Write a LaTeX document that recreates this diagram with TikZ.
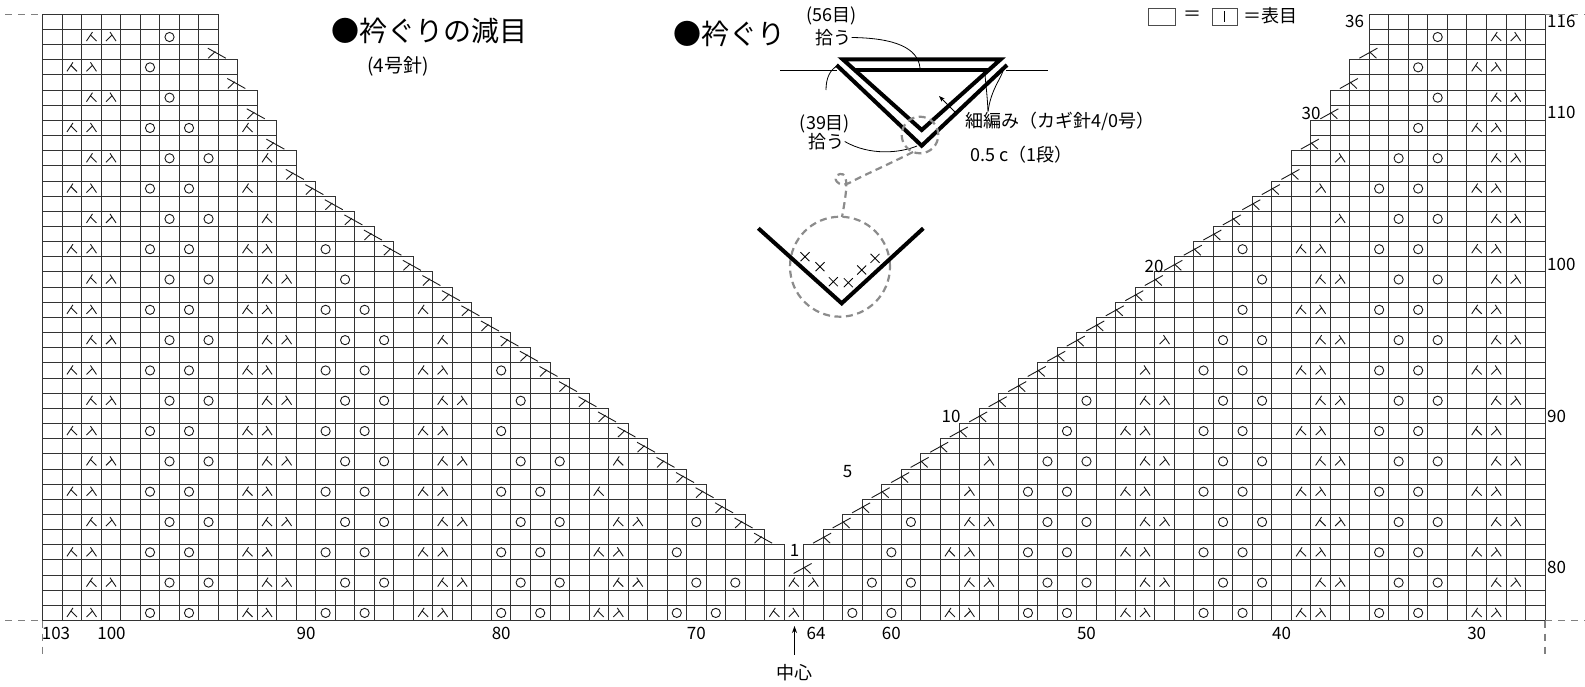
\documentclass[tikz,border=0pt]{standalone}
\usepackage{fontspec}
\setmainfont{Noto Sans CJK JP}
\usetikzlibrary{arrows.meta}

\tikzset{
  cellline/.style={draw=black!80, line width=0.9pt},
  knit/.style={draw=black!90, line width=0.9pt},
  band/.style={line width=4pt, line join=miter},
  thinline/.style={line width=0.8pt},
  dashring/.style={draw=black!45, line width=2.2pt, dash pattern=on 7pt off 4.5pt},
  frameline/.style={draw=black!50, line width=1.1pt, dash pattern=on 7pt off 6pt},
  numlab/.style={inner sep=0pt, font=\fontsize{17pt}{17pt}\selectfont},
  jlab/.style={inner sep=0pt, font=\fontsize{18pt}{18pt}\selectfont},
  titlelab/.style={inner sep=0pt, font=\fontsize{28pt}{28pt}\selectfont},
  pics/kleft/.style={code={\draw[knit] (1pt,5pt) -- (-5pt,-4pt) (-0.6pt,1.6pt) -- (5pt,-4pt);}},
  pics/kright/.style={code={\draw[knit] (-1pt,5pt) -- (5pt,-4pt) (0.6pt,1.6pt) -- (-5pt,-4pt);}},
  pics/edgeleft/.style={code={\draw[knit] (-10.5pt,4pt) -- (7.5pt,-6pt) (-3pt,0.7pt) -- (-10pt,-6pt);}},
  pics/edgeright/.style={code={\draw[knit] (8pt,4pt) -- (-10pt,-6pt) (0pt,0.5pt) -- (7pt,-6pt);}},
}

\begin{document}
\begin{tikzpicture}[x=1pt,y=-1pt]
\useasboundingbox (0,0) rectangle (1585,686);

% chart cells and stitches
\begin{scope}[shift={(42.7pt,-14.3pt)},x=19.51pt,y=-15.155pt]
\foreach \j in {0,...,39}{
  \pgfmathtruncatemacro{\rw}{116-\j}
  \pgfmathtruncatemacro{\ledge}{(\rw<=106) ? (\rw-15) : ((\rw==107) ? 91 : ((\rw<=109) ? 92 : ((\rw<=111) ? 93 : ((\rw<=113) ? 94 : 95))))}
  \pgfmathtruncatemacro{\redge}{130-\ledge}
  \pgfmathtruncatemacro{\dec}{(((\rw>=82) && (\rw<=106)) || (\rw==108) || (\rw==110) || (\rw==112) || (\rw==114)) ? 1 : 0}
  \pgfmathtruncatemacro{\patt}{(mod(\rw,4)==1) ? 102 : 101}
  \foreach \i in {0,...,76}{
    \pgfmathtruncatemacro{\cl}{103-\i}
    \pgfmathtruncatemacro{\cellon}{((\rw<=80) || (\cl>=\ledge) || (\cl<=\redge)) ? 1 : 0}
    \ifnum\cellon=1
      \draw[cellline] (\i,\j) rectangle ++(1,1);
      \ifodd\rw
        \pgfmathtruncatemacro{\mm}{mod(\patt-\cl+90,9)}
        \pgfmathtruncatemacro{\ulo}{((\mm==0) || (\mm==4)) ? \cl : (\cl-3)}
        \pgfmathtruncatemacro{\vis}{(\rw<=80) ? 1 : ((\cl>=\ledge) ? ((\ulo>=\ledge+\dec+1) ? 1 : 0) : ((\ulo+3<=\redge-\dec-1) ? 1 : 0))}
        \ifnum\vis=1
          \ifnum\mm=0 \pic at (\i+0.5,\j+0.5) {kleft};\fi
          \ifnum\mm=1 \pic at (\i+0.5,\j+0.5) {kright};\fi
          \ifnum\mm=4 \draw[knit] (\i+0.5,\j+0.5) circle (4.6pt);\fi
          \ifnum\mm=6 \draw[knit] (\i+0.5,\j+0.5) circle (4.6pt);\fi
        \fi
      \fi
    \fi
  }
}
% neckline decreases
\foreach \j in {2,...,34}{
  \pgfmathtruncatemacro{\rw}{116-\j}
  \pgfmathtruncatemacro{\ledge}{(\rw<=106) ? (\rw-15) : ((\rw==107) ? 91 : ((\rw<=109) ? 92 : ((\rw<=111) ? 93 : ((\rw<=113) ? 94 : 95))))}
  \pgfmathtruncatemacro{\dec}{(((\rw>=82) && (\rw<=106)) || (\rw==108) || (\rw==110) || (\rw==112) || (\rw==114)) ? 1 : 0}
  \pgfmathtruncatemacro{\xl}{104-\ledge}
  \pgfmathtruncatemacro{\xr}{\ledge-27}
  \ifnum\dec=1
    \pic at (\xl,\j+0.5) {edgeleft};
    \pic at (\xr,\j+0.5) {edgeright};
  \fi
}
\pic at (39,36.5) {edgeright};
\end{scope}

% dashed frame marks
\draw[frameline] (5,14.3) -- (42.7,14.3);
\draw[frameline] (1545,14.3) -- (1585,14.3);
\draw[frameline] (5,620.5) -- (42.7,620.5);
\draw[frameline] (1545,620.5) -- (1585,620.5);
\draw[frameline] (42.7,620.5) -- (42.7,657);
\draw[frameline] (1545,620.5) -- (1545,657);

% stitch numbers
\node[numlab] (b103) at (56,633) {103};
\node[numlab] (b100) at (111.5,633) {100};
\foreach \c in {90,80,70,60,50,40,30}
  \node[numlab] (b\c) at ({42.7+(103.5-\c)*19.51},633) {\c};
\node[numlab] (b64) at (816,633) {64};
\node[jlab] (center) at (794.5,673) {中心};
\coordinate (ctip) at (794.5,626);
\draw[thinline,-{Stealth[length=7pt,width=5pt]},shorten <=10pt] (center) -- (ctip);

% row numbers
\node[numlab,anchor=west] (r116) at (1547,21.9) {116};
\node[numlab,anchor=west] (r110) at (1547,112.8) {110};
\node[numlab,anchor=west] (r100) at (1547,264.4) {100};
\node[numlab,anchor=west] (r90) at (1547,416) {90};
\node[numlab,anchor=west] (r80) at (1547,567.5) {80};

% neck rows
\node[numlab] (s1) at (794.5,550) {1};
\node[numlab] (s5) at (847.5,471.7) {5};
\node[numlab] (s10) at (951,416.7) {10};
\node[numlab] (s20) at (1154,266) {20};
\node[numlab] (s30) at (1311,113.3) {30};
\node[numlab] (s36) at (1354.5,21.7) {36};

% titles
\node[titlelab] (title1) at (429,31) {●衿ぐりの減目};
\node[inner sep=0pt,font=\fontsize{19pt}{19pt}\selectfont] (needle) at (398,66) {(4号針)};
\node[titlelab] (title2) at (729,34) {●衿ぐり};

% key
\draw[draw=black!70,line width=0.8pt] (1148,8) rectangle (1175,25);
\node[jlab] (eq1) at (1192,16) {＝};
\draw[draw=black!70,line width=0.8pt] (1212,8) rectangle (1237,25);
\draw[line width=0.8pt] (1224.5,11) -- (1224.5,22);
\node[jlab,anchor=west] (knitkey) at (1243,16) {＝表目};

% neckband sketch
\node[jlab] (p56) at (831.5,15.5) {(56目)};
\node[jlab] (p56b) at (833.5,37.5) {拾う};
\node[jlab] (p39) at (825,123.5) {(39目)};
\node[jlab] (p39b) at (826.5,141.5) {拾う};
\node[jlab,anchor=west] (sc) at (965,121) {細編み（カギ針4/0号）};
\node[jlab,anchor=west] (wd) at (970,155) {0.5 c（1段）};

\draw[thinline] (780,70) -- (837,70) (1006,70) -- (1048,70);
\draw[band] (842.7,59.3) -- (1000.7,59.3) -- (921.7,130) -- cycle;
\draw[band] (854.7,70) -- (988.7,70);
\draw[band] (836.5,65) -- (921.7,145.7) -- (1007,65);
\draw[thinline,-{Stealth[length=6pt,width=4.5pt]}] (955,112) -- (939,96);

\coordinate (l56) at (920,68);
\coordinate (l39top) at (826,90);
\coordinate (l39end) at (837,66);
\coordinate (l39tip) at (917,146);
\coordinate (sc1) at (985,72);
\coordinate (sc2) at (1003,71);
\draw[thinline] (p56b.east) .. controls (895,38) and (918,48) .. (l56);
\draw[thinline] (l39top) .. controls (826,78) and (830,70) .. (l39end);
\draw[thinline] (p39b.east) .. controls (870,156) and (900,153) .. (l39tip);
\draw[thinline] ([xshift=23pt]sc.north west) .. controls (987,90) and (985,80) .. (sc1);
\draw[thinline] ([xshift=23pt]sc.north west) .. controls (991,90) and (1000,80) .. (sc2);

\draw[dashring] (920,135) circle (18.3pt);
\draw[dashring] (913,152) .. controls (885,166) and (862,176) .. (851,182) .. controls (838,190) and (830,176) .. (840,174) .. controls (850,172) and (846,195) .. (842,217);
\draw[dashring] (840,266.7) circle (50pt);
\draw[line width=4pt] (758.3,228.3) -- (841.7,303.3) -- (923.3,228.3);
\foreach \px/\py in {805/256.7, 820/266.7, 833.3/281.7, 848.3/282.7, 861.7/270, 875/258.3}
  \draw[thinline] (\px-4.5,\py-4.5) -- (\px+4.5,\py+4.5) (\px-4.5,\py+4.5) -- (\px+4.5,\py-4.5);
\end{tikzpicture}
\end{document}
